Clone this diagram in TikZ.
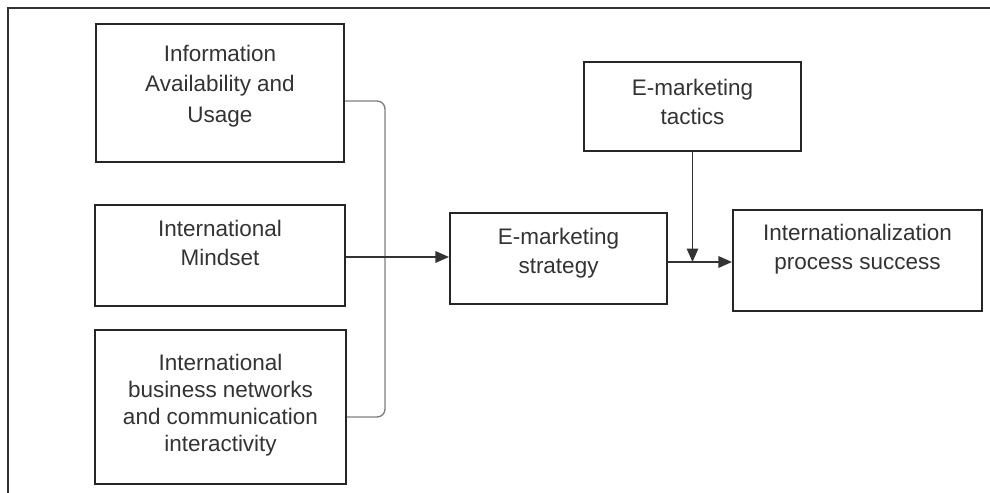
\documentclass[tikz,border=0pt]{standalone}
\usepackage{fontspec}
\setmainfont{Liberation Sans}
\usetikzlibrary{arrows.meta,positioning}
\newcommand{\boxtext}[4]{\parbox[c][#2][t]{#1}{\centering\vspace{#3}#4}}

\begin{document}
\begin{tikzpicture}[x=0.02cm,y=-0.02cm,
    box/.style={draw=black!85,line width=1.2pt,inner sep=0pt,text=black!80,font=\fontsize{12.8}{16.6}\selectfont},
    arr/.style={draw=black!80,line width=0.85pt,-{Triangle[length=0.27cm,width=0.23cm]}},
    brace/.style={draw=black!50,line width=0.8pt,rounded corners=0.16cm}]
    \useasboundingbox (0,0) rectangle (990,493);
    \draw[black!80,line width=1.3pt] (8,520) -- (8,8) -- (1010,8);

    \node[box,font=\fontsize{12.8}{17.3}\selectfont] (info) at (220,93) {\boxtext{4.96cm}{2.76cm}{0.42cm}{Information\\ Availability and\\ Usage}};
    \node[box] (mind) at (220,255.5) {\boxtext{5cm}{2.02cm}{0.3cm}{International\\ Mindset}};
    \node[box,font=\fontsize{12.8}{15.4}\selectfont] (net) at (220.5,407) {\boxtext{5.02cm}{3.08cm}{0.48cm}{International\\ business networks\\ and communication\\ interactivity}};

    \node[box] (strat) at (558.5,258.5) {\boxtext{4.34cm}{1.82cm}{0.3cm}{E-marketing\\ strategy}};
    \node[box] (tact) at (692.5,106.5) {\boxtext{4.34cm}{1.78cm}{0.34cm}{E-marketing\\ tactics}};
    \node[box] (succ) at (857.5,260.5) {\boxtext{4.98cm}{2.02cm}{0.28cm}{Internationalization\\ process success}};

    \coordinate (bend) at (385,257);
    \coordinate (meet) at (tact |- 0,262);

    \draw[brace] (info.east |- 0,101) -| (bend) |- (net.east |- 0,417);
    \draw[arr] (mind.east |- bend) -- (strat.west |- bend);
    \draw[arr] (strat.east |- meet) -- (succ.west |- meet);
    \draw[arr] (tact) -- (meet);
\end{tikzpicture}
\end{document}
